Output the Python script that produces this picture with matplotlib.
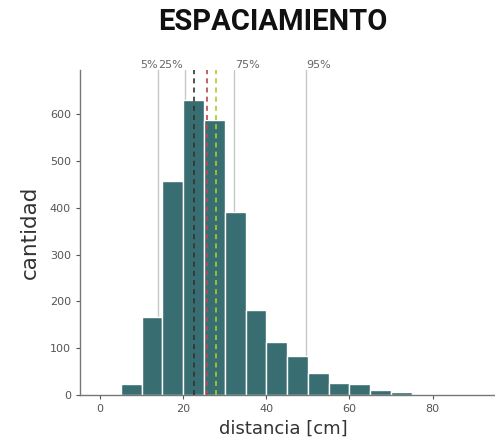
import matplotlib
matplotlib.use("Agg")
import matplotlib.pyplot as plt
import numpy as np

bin_edges = [0, 5, 10, 15, 20, 25, 30, 35, 40, 45, 50, 55, 60, 65, 70, 75, 80, 85, 90]
counts = [2, 23, 166, 458, 630, 588, 390, 182, 113, 83, 46, 26, 23, 11, 7, 2, 1, 1]
pct_labels = ["5%", "25%", "75%", "95%"]
pct_values = [13.9, 20.4, 32.3, 49.6]
mode_value = 22.7
median_value = 25.7
mean_value = 28.0
xticks = [0, 20, 40, 60, 80]
yticks = [0, 100, 200, 300, 400, 500, 600]

fig = plt.figure(figsize=(4.95, 4.45), dpi=100)
ax = fig.add_axes([80/495, 1-395/445, 1-80/495, (395-70)/445])

left = np.array(bin_edges[:-1])
widths = np.diff(bin_edges)
ax.bar(left, counts, width=widths, align='edge', color='#386d72',
       edgecolor='white', linewidth=1.0, zorder=2)

for v in pct_values:
    ax.axvline(v, color='#c8c8c8', linewidth=1.0, zorder=1)

ax.axvline(mode_value, color='#333333', linestyle=(0, (3, 2.5)), linewidth=1.2, zorder=3)
ax.axvline(median_value, color='#b5474e', linestyle=(0, (3, 2.5)), linewidth=1.2, zorder=3)
ax.axvline(mean_value, color='#a9cc2e', linestyle=(0, (3, 2.5)), linewidth=1.2, zorder=3)

ax.set_xlim(-4.8, 95)
ax.set_ylim(0, 694)

tr = ax.get_xaxis_transform()
lab_kw = dict(transform=tr, fontsize=8, color='#666666', va='bottom')
ax.text(pct_values[0], 1.0, pct_labels[0], ha='right', **lab_kw)
ax.text(pct_values[0], 1.0, pct_labels[1], ha='left', **lab_kw)
ax.text(pct_values[2] + 0.3, 1.0, pct_labels[2], ha='left', **lab_kw)
ax.text(pct_values[3], 1.0, pct_labels[3], ha='left', **lab_kw)

ax.set_xticks(xticks)
ax.set_yticks(yticks)
ax.tick_params(labelsize=8, colors='#555555', length=3, width=0.8)
for s in ['top', 'right']:
    ax.spines[s].set_visible(False)
for s in ['left', 'bottom']:
    ax.spines[s].set_color('#777777')
    ax.spines[s].set_linewidth(1.0)

ax.set_xlabel('distancia [cm]', fontsize=13, color='#333333')
ax.xaxis.set_label_coords(0.49, -0.075)
ax.set_ylabel('cantidad', fontsize=15.5, color='#333333', labelpad=7)

fig.text(0.552, 0.95, 'ESPACIAMIENTO', ha='center', va='center',
         fontsize=21, fontweight='bold', family='Roboto', color='#111111')

fig.savefig('out.png', dpi=100)
